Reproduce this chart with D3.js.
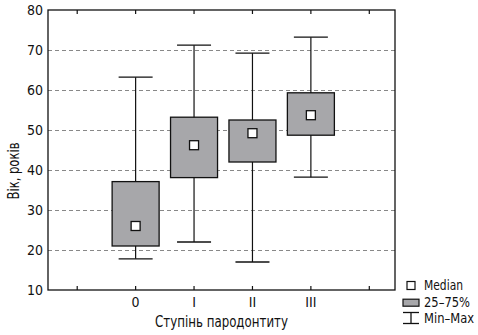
<!DOCTYPE html>
<html><head><meta charset="utf-8">
<script src="https://cdn.jsdelivr.net/npm/d3@7"></script>
<style>body{margin:0;background:#fff}svg{display:block}text{font-family:"DejaVu Sans Condensed","Liberation Sans",sans-serif;fill:#111}</style>
</head><body><svg id="c" width="478" height="335"></svg>
<script>
const categories = ["0","I","II","III"];
const medians = [26, 46.2, 49.2, 53.7];
const q1 = [21, 38.1, 42, 48.7];
const q3 = [37.1, 53.2, 52.5, 59.3];
const mins = [17.8, 22, 17, 38.2];
const maxs = [63.2, 71.2, 69.2, 73.2];
const yTicks = [10,20,30,40,50,60,70,80];
const xTickPos = [-1,0,1,2,3,4];
const legendLabels = ["Median","25\u201375%","Min\u2013Max"];

const svg = d3.select("#c");
const L=48, R=395, T=10, B=290;
const x = d3.scaleLinear().domain([-1.5,4.44]).range([L,R]);
const y = d3.scaleLinear().domain([10,80]).range([B,T]);

// grid
svg.append("g").selectAll("line").data(yTicks.filter(d=>d>10&&d<80)).join("line")
  .attr("x1",L).attr("x2",R).attr("y1",d=>y(d)+0.5).attr("y2",d=>y(d)+0.5)
  .attr("stroke","#888").attr("stroke-width",1).attr("stroke-dasharray","4,3");

// y labels
svg.append("g").selectAll("text").data(yTicks).join("text")
  .attr("x",L-5).attr("y",d=>y(d)+5).attr("text-anchor","end")
  .style("font-size","14px").text(d=>d);

// x ticks top & bottom
svg.append("g").selectAll("line").data(xTickPos).join("line")
  .attr("x1",d=>x(d)).attr("x2",d=>x(d)).attr("y1",B).attr("y2",B-4)
  .attr("stroke","#111").attr("stroke-width",1.2);
svg.append("g").selectAll("line").data(xTickPos).join("line")
  .attr("x1",d=>x(d)).attr("x2",d=>x(d)).attr("y1",T).attr("y2",T+4)
  .attr("stroke","#111").attr("stroke-width",1.2);

// x labels
svg.append("g").selectAll("text").data(categories).join("text")
  .attr("x",(d,i)=>x(i)).attr("y",B+17).attr("text-anchor","middle")
  .style("font-size","14px").text(d=>d);

// boxes
const bw = 47, cw = 34;
const g = svg.append("g").selectAll("g").data(categories).join("g");
g.append("line").attr("x1",(d,i)=>x(i)).attr("x2",(d,i)=>x(i))
  .attr("y1",(d,i)=>y(maxs[i])).attr("y2",(d,i)=>y(mins[i]))
  .attr("stroke","#111").attr("stroke-width",1.2);
g.append("line").attr("x1",(d,i)=>x(i)-cw/2).attr("x2",(d,i)=>x(i)+cw/2)
  .attr("y1",(d,i)=>y(maxs[i])).attr("y2",(d,i)=>y(maxs[i]))
  .attr("stroke","#111").attr("stroke-width",1.3);
g.append("line").attr("x1",(d,i)=>x(i)-cw/2).attr("x2",(d,i)=>x(i)+cw/2)
  .attr("y1",(d,i)=>y(mins[i])).attr("y2",(d,i)=>y(mins[i]))
  .attr("stroke","#111").attr("stroke-width",1.3);
g.append("rect").attr("x",(d,i)=>x(i)-bw/2).attr("width",bw)
  .attr("y",(d,i)=>y(q3[i])).attr("height",(d,i)=>y(q1[i])-y(q3[i]))
  .attr("fill","#a7a7aa").attr("stroke","#111").attr("stroke-width",1.3);
g.append("rect").attr("x",(d,i)=>x(i)-4.5).attr("width",9)
  .attr("y",(d,i)=>y(medians[i])-4.5).attr("height",9)
  .attr("fill","#fff").attr("stroke","#111").attr("stroke-width",1.3);

// frame
svg.append("rect").attr("x",L).attr("y",T).attr("width",R-L).attr("height",B-T)
  .attr("fill","none").attr("stroke","#111").attr("stroke-width",1.3);

// axis titles
svg.append("text").attr("x",221.5).attr("y",327).attr("text-anchor","middle")
  .attr("textLength",133).attr("lengthAdjust","spacingAndGlyphs")
  .style("font-size","15px").text("Ступінь пародонтиту");
svg.append("text").attr("transform","translate(19,171) rotate(-90)").attr("text-anchor","middle")
  .attr("textLength",57).attr("lengthAdjust","spacingAndGlyphs")
  .style("font-size","15px").text("Вік, років");

// legend
const lg = svg.append("g");
const ly = [285.5, 302.7, 318];
lg.append("rect").attr("x",407).attr("y",ly[0]-4).attr("width",8).attr("height",8)
  .attr("fill","#fff").attr("stroke","#111").attr("stroke-width",1.2);
lg.append("rect").attr("x",403).attr("y",ly[1]-3.5).attr("width",16).attr("height",7)
  .attr("fill","#a7a7aa").attr("stroke","#111").attr("stroke-width",1.2);
lg.append("line").attr("x1",403).attr("x2",419).attr("y1",ly[2]-5.5).attr("y2",ly[2]-5.5).attr("stroke","#111").attr("stroke-width",1.3);
lg.append("line").attr("x1",403).attr("x2",419).attr("y1",ly[2]+5.5).attr("y2",ly[2]+5.5).attr("stroke","#111").attr("stroke-width",1.3);
lg.append("line").attr("x1",411).attr("x2",411).attr("y1",ly[2]-5.5).attr("y2",ly[2]+5.5).attr("stroke","#111").attr("stroke-width",1.3);
const lw = [39,46,50];
lg.selectAll("text").data(legendLabels).join("text")
  .attr("x",424).attr("y",(d,i)=>[290,306.7,322.5][i])
  .attr("textLength",(d,i)=>lw[i]).attr("lengthAdjust","spacingAndGlyphs")
  .style("font-size","14px").text(d=>d);
</script></body></html>
